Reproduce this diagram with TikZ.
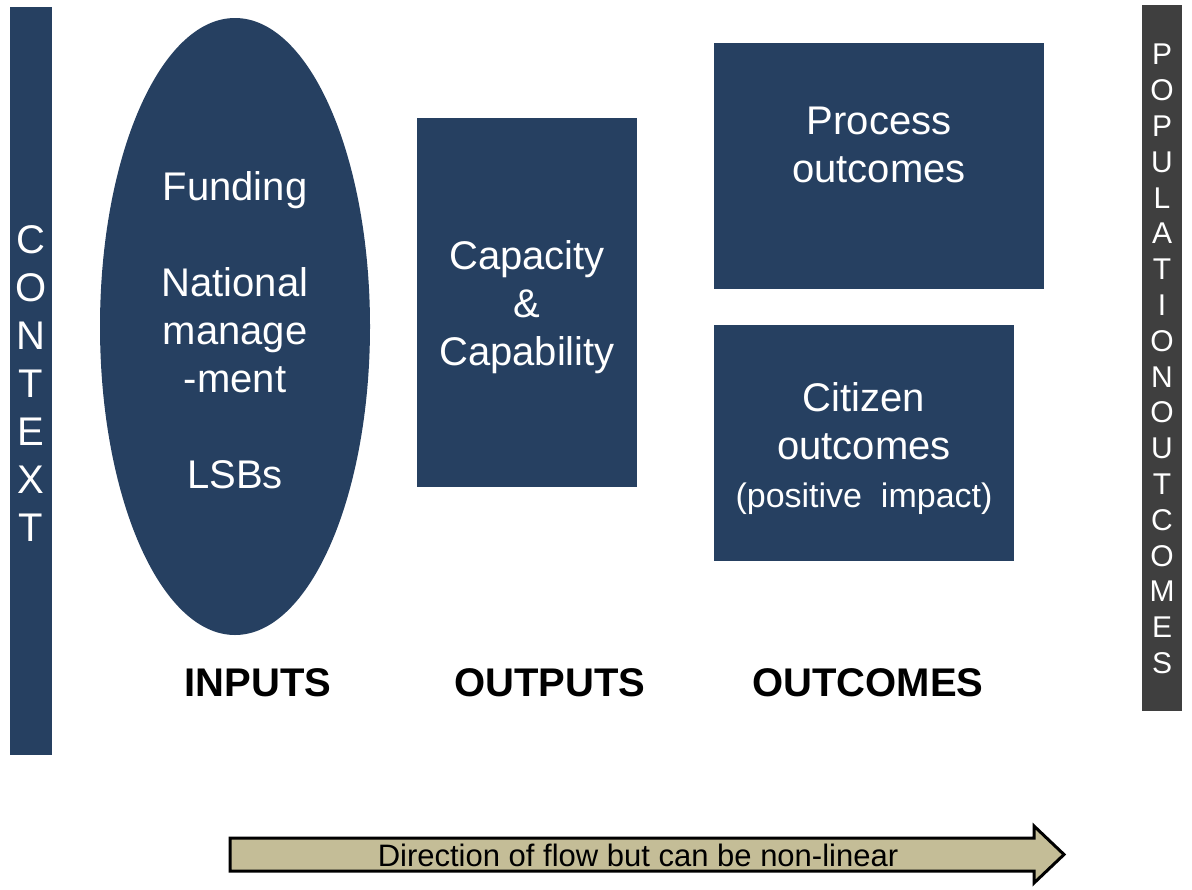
\documentclass[tikz,border=0pt]{standalone}
\usepackage{fontspec}
\setmainfont{Liberation Sans}
\definecolor{navy}{RGB}{38,64,97}
\definecolor{darkgrey}{RGB}{63,63,63}
\definecolor{tan}{RGB}{196,189,151}
\begin{document}
\begin{tikzpicture}[x=0.5pt,y=-0.5pt,
  panel/.style={fill=navy,draw=none,inner sep=0pt},
  wtext/.style={text=white,align=center,font=\fontsize{20}{24}\selectfont},
  heading/.style={text=black,font=\fontsize{20}{24}\selectfont\bfseries}]
\useasboundingbox (0,0) rectangle (1192,889);
% context bar
\fill[navy] (10,7) rectangle (52,755);
\node[wtext] (context) at (31,384) {C\\O\\N\\T\\E\\X\\T};
% population outcomes bar
\fill[darkgrey] (1142,5) rectangle (1182,711);
\node[text=white,align=center,font=\fontsize{15}{17.9}\selectfont] (pop) at (1162,359)
  {P\\O\\P\\U\\L\\A\\T\\I\\O\\N\\O\\U\\T\\C\\O\\M\\E\\S};
% inputs ellipse
\fill[navy] (235,326.5) ellipse [x radius=135, y radius=308.5];
\node[wtext] (inputs) at (235,330) {Funding\\[24pt]National\\manage\\-ment\\[24pt]LSBs};
% outputs box
\fill[navy] (417,118) rectangle (637,487);
\node[wtext] (outputs) at (527,307) {Capacity\\\&\\Capability};
% process outcomes
\fill[navy] (714,43) rectangle (1044,289);
\node[wtext] (process) at (879,145) {Process\\outcomes};
% citizen outcomes
\fill[navy] (714,325) rectangle (1014,561);
\node[wtext] (citizen) at (864,449) {Citizen\\outcomes\\{\fontsize{17}{21}\selectfont (positive\ \ impact)}};
% headings
\node[heading] (hin) at (258,683) {INPUTS};
\node[heading] (hout) at (550,683) {OUTPUTS};
\node[heading] (hoc) at (868,683) {OUTCOMES};
% arrow
\draw[fill=tan,line width=1.5pt,line join=miter] (230,838) -- (1034,838) -- (1034,826) -- (1064,854.5)
  -- (1034,883) -- (1034,871) -- (230,871) -- cycle;
\node[font=\fontsize{15.5}{18}\selectfont] (flow) at (638,855) {Direction of flow but can be non-linear};
\end{tikzpicture}
\end{document}
